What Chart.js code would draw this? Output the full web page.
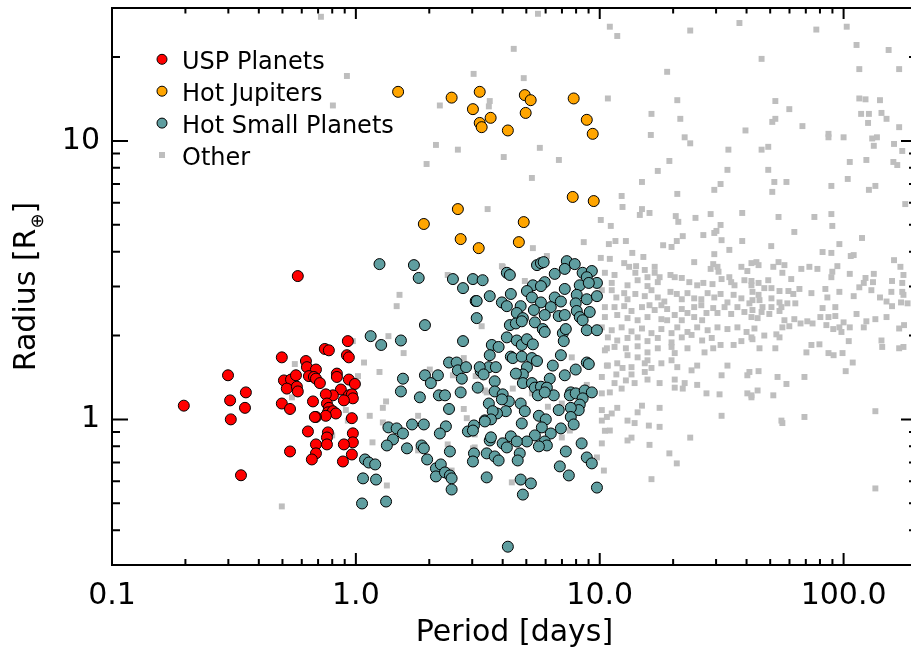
<!DOCTYPE html>
<html>
<head>
<meta charset="utf-8">
<script src="https://cdn.jsdelivr.net/npm/chart.js@4.4.1/dist/chart.umd.min.js"></script>
<style>
  html, body { margin: 0; padding: 0; background: #fff; overflow: hidden; }
  #wrap { width: 925px; height: 651px; }
</style>
</head>
<body>
<div id="wrap"><canvas id="chart" width="925" height="651"></canvas></div>
<script>
// [period in days, radius in earth radii]
const uspPlanets = [
  [0.578,3.27],[0.197,1.12],[0.299,1.44],[0.354,1.25],[0.305,1.17],[0.351,1.10],[0.307,1.00],[0.338,0.63],
  [0.497,1.67],[0.507,1.38],[0.542,1.39],[0.568,1.44],[0.521,1.29],[0.573,1.31],[0.578,1.26],[0.497,1.14],
  [0.537,1.09],[0.624,1.62],[0.630,1.54],[0.686,1.51],[0.642,1.43],[0.673,1.42],[0.686,1.40],[0.712,1.35],
  [0.746,1.79],[0.775,1.77],[0.927,1.91],[0.919,1.70],[0.936,1.67],[0.836,1.46],[0.836,1.42],[0.936,1.39],
  [0.991,1.34],[0.868,1.28],[0.805,1.22],[0.753,1.23],[0.936,1.22],[0.963,1.23],[0.972,1.19],[0.893,1.17],
  [0.667,1.16],[0.761,1.14],[0.775,1.10],[0.768,1.06],[0.805,1.07],[0.828,1.05],[0.753,1.03],[0.686,1.02],
  [0.679,1.02],[0.963,1.01],[0.636,0.905],[0.768,0.898],[0.761,0.861],[0.972,0.891],[0.972,0.827],
  [0.686,0.813],[0.761,0.813],[0.893,0.813],[0.537,0.767],[0.686,0.755],[0.660,0.718],[0.963,0.748],[0.885,0.706]
];

const hotJupiters = [
  [1.49,15.0],[2.47,14.3],[3.22,15.0],[3.02,13.0],[3.22,11.6],[3.28,11.2],[3.57,12.1],[4.20,10.9],
  [4.93,14.6],[5.21,14.0],[4.97,12.6],[7.82,14.2],[8.85,11.9],[9.36,10.6],[7.75,6.29],[9.45,6.08],
  [1.90,5.03],[2.62,5.69],[4.88,5.11],[2.69,4.44],[3.19,4.12],[4.66,4.33]
];

const hotSmallPlanets = [
  [1.25,3.61],[1.73,3.58],[1.81,3.22],[2.50,3.19],[2.75,2.96],[3.10,2.66],[3.13,2.66],
  [1.92,2.18],[1.15,1.99],[1.27,1.85],[1.53,1.92],[2.75,1.91],[2.41,1.60],[2.59,1.60],
  [2.62,1.50],[2.83,1.54],[2.72,1.40],[3.25,1.49],[3.51,1.54],[1.56,1.40],[1.92,1.44],
  [2.17,1.44],[2.03,1.35],[1.53,1.26],[1.83,1.20],[2.19,1.22],[2.32,1.22],[2.69,1.25],
  [2.41,1.09],[1.36,0.936],[1.47,0.928],[1.56,0.890],[1.42,0.847],[1.34,0.806],[1.70,0.959],
  [1.90,0.959],[2.34,0.944],[2.21,0.890],[2.88,0.905],[3.38,0.992],[3.54,0.840],[1.62,0.787],
  [1.86,0.806],[1.90,0.787],[2.43,0.767],[1.96,0.718],[1.09,0.718],[1.13,0.700],[1.20,0.689],
  [1.07,0.614],[1.21,0.608],[2.13,0.667],[2.23,0.689],[2.13,0.624],[2.32,0.645],[2.43,0.629],
  [2.47,0.614],[2.47,0.560],[1.06,0.499],[1.33,0.507],
  [3.02,3.19],[3.31,3.16],[3.13,2.31],[3.54,2.77],[4.16,3.36],[4.28,3.30],[5.53,3.58],[5.74,3.64],
  [5.89,3.67],[7.33,3.70],[7.90,3.61],[6.54,3.33],[7.19,3.47],[8.51,3.36],[9.28,3.41],[8.85,3.24],
  [9.74,3.09],[8.28,3.03],[9.02,3.09],[5.95,3.11],[5.32,3.03],[5.74,3.01],[5.03,2.89],[4.32,2.82],
  [5.27,2.74],[5.74,2.63],[6.54,2.74],[7.19,2.94],[8.05,2.80],[8.85,2.70],[9.74,2.77],[3.97,2.63],
  [4.16,2.55],[4.74,2.55],[5.37,2.47],[6.30,2.53],[6.93,2.65],[7.97,2.61],[8.05,2.45],[8.28,2.33],
  [8.51,2.27],[9.10,2.43],[4.57,2.41],[4.84,2.31],[5.42,2.23],[5.95,2.37],[6.79,2.35],[7.19,2.37],
  [8.85,2.09],[9.74,2.09],[4.28,2.18],[4.53,2.21],[4.79,2.25],[5.84,2.11],[5.95,2.06],[7.06,2.04],
  [7.26,2.11],[7.12,1.91],[4.16,1.97],[3.61,1.85],[3.85,1.82],[3.54,1.70],[4.57,1.92],[4.79,1.85],
  [5.03,1.94],[5.32,1.86],[4.32,1.68],[4.40,1.66],[4.79,1.68],[5.27,1.66],[5.53,1.62],[6.93,1.70],
  [6.42,1.56],[5.03,1.54],[4.84,1.45],[4.53,1.46],[7.19,1.44],[7.97,1.51],[8.85,1.60],[9.02,1.58],
  [3.22,1.54],[3.34,1.45],[3.75,1.54],[3.71,1.37],[3.16,1.30],[4.84,1.35],[5.27,1.35],[5.42,1.30],
  [5.74,1.31],[6.24,1.40],[6.07,1.30],[6.48,1.22],[5.58,1.22],[5.95,1.25],[3.71,1.26],[4.00,1.23],
  [4.24,1.16],[3.97,1.18],[7.61,1.25],[7.54,1.22],[7.97,1.24],[8.68,1.27],[9.28,1.25],[8.51,1.19],
  [8.28,1.13],[8.20,1.08],[7.61,1.10],[3.51,1.14],[4.74,1.14],[4.93,1.07],[4.12,1.07],[3.79,1.05],
  [3.64,1.07],[3.58,1.00],[3.38,0.983],[3.05,0.951],[3.02,0.912],[4.79,0.967],[5.63,1.03],[6.01,1.00],
  [5.79,0.936],[6.79,1.08],[6.93,0.928],[7.61,1.02],[7.82,0.959],[6.30,0.890],[5.42,0.876],[5.03,0.833],
  [5.95,0.833],[6.07,0.806],[4.32,0.869],[4.57,0.833],[4.00,0.820],[4.16,0.793],[3.58,0.862],[3.44,0.755],
  [3.71,0.736],[3.85,0.712],[4.70,0.755],[4.61,0.712],[5.63,0.800],[7.26,0.767],[8.43,0.820],[8.85,0.730],
  [9.28,0.695],[6.86,0.678],[7.47,0.629],[3.44,0.619],[4.74,0.608],[5.22,0.589],[4.84,0.537],[9.74,0.569],
  [3.05,0.755],[3.02,0.706],[4.20,0.349]
];

const otherPlanets = [
  [5.58,28.6],[11.0,25.7],[11.8,23.8],[23.5,24.9],[37.4,26.5],[77.3,25.1],[103,25.7],[4.44,21.4],
  [113,22.1],[153,21.2],[46.1,19.7],[3.04,17.4],[4.88,16.8],[18.9,17.7],[116,18.1],[169,18.1],
  [10.8,14.2],[20.8,14.0],[52.5,13.9],[59.9,13.0],[116,14.2],[123,14.1],[141,14.0],[3.54,13.9],
  [3.51,13.3],[16.3,12.5],[21.4,12.0],[39.6,10.9],[51.0,11.7],[52.5,12.0],[67.8,11.3],[118,12.5],
  [127,12.5],[143,12.6],[150,12.0],[126,11.6],[169,11.2],[16.2,10.5],[22.3,10.3],[23.5,9.80],
  [86.7,10.6],[86.7,10.3],[100,10.3],[131,10.2],[137,10.3],[133,9.6],[161,9.75],[174,9.2],
  [2.62,9.3],[5.68,9.44],[4.04,8.75],[6.80,8.54],[33.7,9.3],[46.1,9.3],[49.1,9.52],[19.3,8.47],
  [17.3,7.80],[33.4,7.87],[49.1,7.87],[106,8.40],[124,8.54],[160,8.40],[166,8.19],[5.27,7.36],
  [14.9,7.12],[31.3,7.00],[29.5,6.67],[52.0,7.12],[58.3,7.12],[51.0,6.56],[104,7.30],[89.1,6.89],
  [135,6.89],[127,6.67],[12.3,6.34],[20.8,6.45],[3.47,5.69],[12.4,5.79],[14.9,5.69],[14.6,5.42],
  [16.0,5.51],[38.4,5.51],[89.1,5.46],[179,5.93],[10.1,5.20],[11.1,4.95],[20.5,5.37],[21.0,5.12],
  [24.7,5.29],[28.5,5.46],[31.3,4.99],[54.1,5.33],[75.9,5.33],[89.9,4.95],[8.60,4.33],[10.9,4.26],
  [11.6,4.37],[12.8,4.37],[18.2,4.22],[19.7,4.16],[20.7,4.37],[21.9,4.55],[26.6,4.59],[29.5,4.67],
  [30.1,4.75],[31.6,4.40],[38.4,4.37],[50.5,4.19],[62.8,4.71],[96.1,4.26],[119,4.48],[5.32,4.12],
  [4.00,3.53],[4.93,3.14],[10.1,3.80],[11.0,3.77],[13.6,3.96],[15.1,3.83],[24.4,3.67],[29.5,3.92],
  [34.0,4.06],[82.0,3.99],[89.1,3.96],[107,3.86],[110,3.89],[161,3.73],[171,3.53],
  [12.6,3.64],[13.2,3.53],[14.1,3.55],[15.3,3.44],[16.8,3.53],[29.2,3.61],[30.4,3.53],[28.5,3.47],
  [30.7,3.39],[34.0,3.24],[38.1,3.53],[41.9,3.64],[40.3,3.41],[10.5,3.36],[11.5,3.30],[14.0,3.36],
  [15.7,3.24],[16.8,3.36],[17.6,3.24],[19.5,3.30],[20.3,3.24],[21.7,3.22],[23.3,3.11],[25.1,3.03],
  [26.6,3.09],[29.0,3.06],[31.6,3.19],[34.6,3.11],[35.7,3.03],[39.2,3.16],[41.9,3.03],[11.2,3.09],
  [13.0,3.03],[14.3,3.16],[15.7,3.01],[17.3,3.11],[10.2,2.91],[11.2,2.91],[11.7,2.74],[12.6,2.84],
  [13.0,2.70],[14.0,2.82],[15.3,2.77],[16.3,2.91],[17.3,2.74],[18.4,2.65],[19.5,2.87],[20.7,2.82],
  [21.7,2.70],[22.9,2.84],[24.4,2.72],[26.1,2.70],[27.7,2.84],[29.5,2.74],[31.3,2.82],[33.4,2.63],
  [35.4,2.80],[38.1,2.72],[41.1,2.61],[10.5,2.53],[11.5,2.53],[12.6,2.55],[13.5,2.45],[14.9,2.53],
  [16.0,2.57],[16.8,2.47],[17.9,2.57],[18.9,2.49],[20.3,2.37],[21.7,2.49],[22.9,2.41],[24.4,2.53],
  [26.1,2.57],[27.4,2.41],[29.2,2.51],[30.4,2.41],[32.5,2.53],[34.6,2.39],[36.7,2.53],[39.2,2.43],
  [41.9,2.33],[10.5,2.33],[11.8,2.37],[13.0,2.31],[14.3,2.27],[15.7,2.33],[17.9,2.29],[18.9,2.27],
  [21.7,2.27],[24.4,2.33],[26.3,2.27],[10.2,2.14],[11.2,2.09],[12.3,2.14],[13.5,2.07],[14.9,2.12],
  [16.3,2.04],[17.9,2.11],[19.7,2.04],[20.8,2.14],[22.9,2.06],[25.1,2.14],[27.7,2.09],[30.4,2.14],
  [33.4,2.11],[36.7,2.14],[40.0,2.06],[10.8,1.97],[11.8,1.92],[13.0,1.96],[14.3,1.97],[15.7,1.91],
  [17.3,1.96],[19.7,1.89],[21.7,1.97],[23.8,2.01],[26.3,1.92],[28.8,1.96],[31.3,1.85],[35.4,1.85],
  [38.1,1.91],[41.9,1.97],[10.5,1.77],[11.5,1.82],[12.8,1.80],[14.3,1.83],[15.7,1.74],[17.3,1.80],
  [19.7,1.82],[20.3,1.73],[22.9,1.80],[26.9,1.74],[29.2,1.80],[13.0,1.70],[14.3,1.67],[10.8,1.56],
  [11.8,1.59],[12.4,1.53],[13.5,1.54],[15.3,1.59],[15.7,1.63],[17.9,1.59],[19.7,1.63],[20.8,1.54],
  [23.8,1.50],[25.1,1.56],[33.4,1.56],[40.3,1.44],[10.2,1.42],[11.7,1.45],[13.5,1.45],[15.3,1.48],
  [16.3,1.53],[11.5,1.35],[12.8,1.38],[13.9,1.35],[15.7,1.39],[17.6,1.35],[20.3,1.39],[22.3,1.35],
  [20.3,1.30],[21.9,1.29],[25.1,1.33],[27.4,1.24],[31.0,1.23],[31.6,1.44],[40.3,1.24],[41.9,1.20],
  [10.2,1.24],[11.0,1.25],[12.3,1.29],[10.2,1.08],[11.2,1.05],[11.8,1.10],[14.9,1.12],[14.3,1.06],
  [17.6,1.10],[13.0,0.99],[10.2,0.99],[10.5,0.91],[13.9,0.97],[15.9,0.95],[17.6,0.94],[31.6,1.03],
  [23.5,0.86],[13.5,0.86],
  [43.9,3.67],[44.8,3.58],[54.1,3.67],[57.2,3.58],[51.5,3.53],[67.1,3.47],[72.4,3.53],[78.1,3.47],
  [94.3,3.55],[56.1,3.36],[89.9,3.39],[89.1,3.24],[106,3.33],[133,3.33],[176,3.30],[41.9,3.14],
  [44.8,3.09],[49.1,3.16],[61.0,3.19],[123,3.22],[121,3.09],[132,3.11],[158,3.14],[174,3.09],
  [47.3,2.96],[50.6,2.96],[42.3,2.87],[44.8,2.80],[54.6,2.89],[59.4,2.89],[62.2,2.82],[65.9,2.94],
  [73.8,2.84],[84.2,2.94],[85.8,2.74],[96.1,2.87],[116,2.98],[130,2.91],[110,2.77],[141,2.74],
  [157,2.87],[174,2.87],[176,2.80],[150,2.65],[158,2.55],[172,2.63],[183,2.61],[42.3,2.68],
  [45.2,2.68],[50.6,2.72],[54.6,2.63],[58.8,2.61],[63.4,2.61],[46.5,2.53],[50.6,2.53],[55.6,2.53],
  [42.3,2.47],[46.1,2.43],[49.6,2.39],[54.6,2.45],[82.0,2.51],[92.5,2.53],[44.4,2.31],[57.2,2.27],
  [62.8,2.29],[71.0,2.25],[80.3,2.33],[86.7,2.33],[92.5,2.35],[100,2.23],[113,2.39],[150,2.33],
  [56.1,2.14],[59.9,2.16],[66.6,2.21],[43.1,2.12],[90.7,2.11],[96.1,2.14],[98.0,2.06],[121,2.14],
  [124,2.25],[135,2.29],[169,2.12],[177,2.18],[47.3,2.00],[53.0,2.02],[54.6,1.97],[42.3,1.94],
  [105,1.91],[143,1.92],[144,1.82],[169,1.80],[176,1.82],[45.2,1.80],[52.5,1.80],[73.8,1.85],
  [79.6,1.86],[70.4,1.74],[86.7,1.73],[91.0,1.70],[99.0,1.73],[109,1.60],[102,1.49],[41.1,1.48],
  [44.8,1.49],[53.6,1.42],[69.1,1.42],[58.3,1.34],[44.4,1.27],[41.9,1.22],[51.5,1.22],[69.1,1.02],
  [56.1,0.97],[135,1.07],
  [10.2,0.82],[13.0,0.84],[16.0,0.81],[19.3,0.755],[20.7,0.695],[16.3,0.61],[10.4,0.655],[135,0.565],
  [55.6,0.99],[74.6,2.21],[85.0,2.18],[106,2.14],
  [0.719,27.9],[0.919,17.1],[0.805,13.4],[2.21,13.4],[2.13,9.67],[1.95,8.26],[2.38,3.30],[1.51,2.80],
  [1.47,2.55],[0.972,1.91],[1.36,1.99],[1.57,1.73],[1.08,1.60],[1.25,1.48],[1.02,1.43],[2.01,1.51],
  [2.50,1.44],[2.77,1.66],[3.10,1.43],[3.44,1.25],[1.33,1.16],[1.29,1.10],[1.14,1.03],[0.910,1.08],
  [0.927,0.99],[1.80,1.03],[2.77,1.09],[1.29,0.975],[1.17,0.827],[1.80,0.774],[2.38,0.813],[3.02,0.787],
  [3.07,0.883],[1.34,0.579],[0.497,0.487],[0.562,1.58],[0.547,1.20],[2.47,0.655],[2.85,1.01],[0.80,0.876],
  [3.97,3.55],[6.07,3.86],[3.28,2.16],[4.36,2.20],[10.7,1.80],[7.68,1.67],[10.7,1.56],[8.85,1.33],
  [3.38,1.27],[4.40,1.29],[5.27,1.24],[6.99,1.14],[4.00,1.05],[6.13,1.11],[6.24,0.89],[7.54,0.912],
  [10.7,1.02],[11.0,0.912],[4.36,0.594],[6.99,0.861],[9.74,0.730],[4.00,0.84],[3.07,0.793]
];

const xTickValues = [0.1, 1, 10, 100];
const xTickLabels = ["0.1", "1.0", "10.0", "100.0"];
const yTickValues = [1, 10];
const yTickLabels = ["1", "10"];

const FONT = "'DejaVu Sans', sans-serif";
Chart.defaults.font.family = FONT;
Chart.defaults.color = "#000";

const toXY = (pairs) => pairs.map(([p, r]) => ({ x: p, y: r }));

// minor + major positions for the log tick marks
function logTicks(min, max) {
  const out = [];
  for (let e = Math.floor(Math.log10(min)); e <= Math.ceil(Math.log10(max)); e++) {
    for (let m = 1; m <= 9; m++) {
      const v = m * Math.pow(10, e);
      if (v >= min * 0.999 && v <= max * 1.001) out.push({ v, major: m === 1 });
    }
  }
  return out;
}

const frameAndExtras = {
  id: "frameAndExtras",
  afterDatasetsDraw(chart) {
    const { ctx, chartArea: a } = chart;
    const xs = chart.scales.x;
    const ys = chart.scales.y;
    ctx.save();
    ctx.strokeStyle = "#000";
    ctx.lineWidth = 2;
    ctx.strokeRect(a.left, a.top, a.right - a.left, a.bottom - a.top);
    ctx.beginPath();
    logTicks(xs.min, xs.max).forEach((t) => {
      const px = xs.getPixelForValue(t.v);
      ctx.moveTo(px, a.bottom);
      ctx.lineTo(px, a.bottom - (t.major ? 12 : 6));
      ctx.moveTo(px, a.top);
      ctx.lineTo(px, a.top + (t.major ? 11 : 5.5));
    });
    logTicks(ys.min, ys.max).forEach((t) => {
      const py = ys.getPixelForValue(t.v);
      const len = t.major ? 16 : 8;
      ctx.moveTo(a.left, py);
      ctx.lineTo(a.left + len, py);
      ctx.moveTo(a.right, py);
      ctx.lineTo(a.right - len, py);
    });
    ctx.stroke();
    ctx.restore();
  },
  afterDraw(chart) {
    const { ctx, chartArea: a } = chart;
    ctx.save();

    // legend inside the plot
    ctx.font = "24px " + FONT;
    ctx.textBaseline = "alphabetic";
    chart.data.datasets.forEach((ds, i) => {
      const base = 69.3 + 31.9 * i;
      const my = base - 10;
      if (ds.pointStyle === "rect") {
        ctx.fillStyle = ds.backgroundColor;
        ctx.fillRect(162 - 3, my - 3, 6, 6);
      } else {
        ctx.beginPath();
        ctx.arc(162, my, 5, 0, Math.PI * 2);
        ctx.fillStyle = ds.backgroundColor;
        ctx.fill();
        ctx.lineWidth = 1;
        ctx.strokeStyle = "#000";
        ctx.stroke();
      }
      ctx.fillStyle = "#000";
      ctx.fillText(ds.label, 182, base);
    });

    // y title with subscript
    const parts = [
      { t: "Radius [R", f: "30px " + FONT, dy: 0 },
      { t: "\u2295", f: "18px " + FONT, dy: 8 },
      { t: "]", f: "30px " + FONT, dy: 0 }
    ];
    let w = 0;
    parts.forEach((p) => { ctx.font = p.f; p.w = ctx.measureText(p.t).width; w += p.w; });
    ctx.translate(35, (a.top + a.bottom) / 2);
    ctx.rotate(-Math.PI / 2);
    let cx = -w / 2;
    ctx.fillStyle = "#000";
    parts.forEach((p) => {
      ctx.font = p.f;
      ctx.fillText(p.t, cx, p.dy);
      cx += p.w;
    });
    ctx.restore();
  }
};

const ctx = document.getElementById("chart").getContext("2d");

new Chart(ctx, {
  type: "scatter",
  data: {
    datasets: [
      {
        label: "USP Planets",
        data: toXY(uspPlanets),
        backgroundColor: "#ff0000",
        borderColor: "#000",
        borderWidth: 1,
        pointRadius: 5.5
      },
      {
        label: "Hot Jupiters",
        data: toXY(hotJupiters),
        backgroundColor: "#ffa500",
        borderColor: "#000",
        borderWidth: 1,
        pointRadius: 5.5
      },
      {
        label: "Hot Small Planets",
        data: toXY(hotSmallPlanets),
        backgroundColor: "#5f9ea0",
        borderColor: "#000",
        borderWidth: 1,
        pointRadius: 5.5
      },
      {
        label: "Other",
        data: toXY(otherPlanets),
        backgroundColor: "#bebebe",
        borderWidth: 0,
        pointStyle: "rect",
        pointRadius: 4.2
      }
    ]
  },
  options: {
    responsive: false,
    animation: false,
    layout: { padding: { top: 8, right: 8, left: 0, bottom: 0 } },
    plugins: {
      legend: { display: false },
      tooltip: { enabled: false }
    },
    scales: {
      x: {
        type: "logarithmic",
        min: 0.1,
        max: 200,
        grid: { display: false, drawTicks: false },
        border: { display: false },
        afterBuildTicks: (axis) => { axis.ticks = xTickValues.map((v) => ({ value: v })); },
        afterFit: (axis) => {
          axis.height = 86;
          axis.paddingLeft = 0;
          axis.paddingRight = 0;
        },
        ticks: {
          autoSkip: false,
          maxRotation: 0,
          minRotation: 0,
          padding: 13,
          font: { size: 30 },
          callback: (v, i) => xTickLabels[i]
        },
        title: {
          display: true,
          text: "Period [days]",
          font: { size: 30 },
          padding: 0
        }
      },
      y: {
        type: "logarithmic",
        min: 0.3,
        max: 30,
        grid: { display: false, drawTicks: false },
        border: { display: false },
        afterBuildTicks: (axis) => { axis.ticks = yTickValues.map((v) => ({ value: v })); },
        afterFit: (axis) => {
          axis.width = 112;
          axis.paddingTop = 0;
          axis.paddingBottom = 0;
        },
        ticks: {
          autoSkip: false,
          padding: 12,
          font: { size: 30 },
          callback: (v, i) => yTickLabels[i]
        }
      }
    }
  },
  plugins: [frameAndExtras]
});
</script>
</body>
</html>
